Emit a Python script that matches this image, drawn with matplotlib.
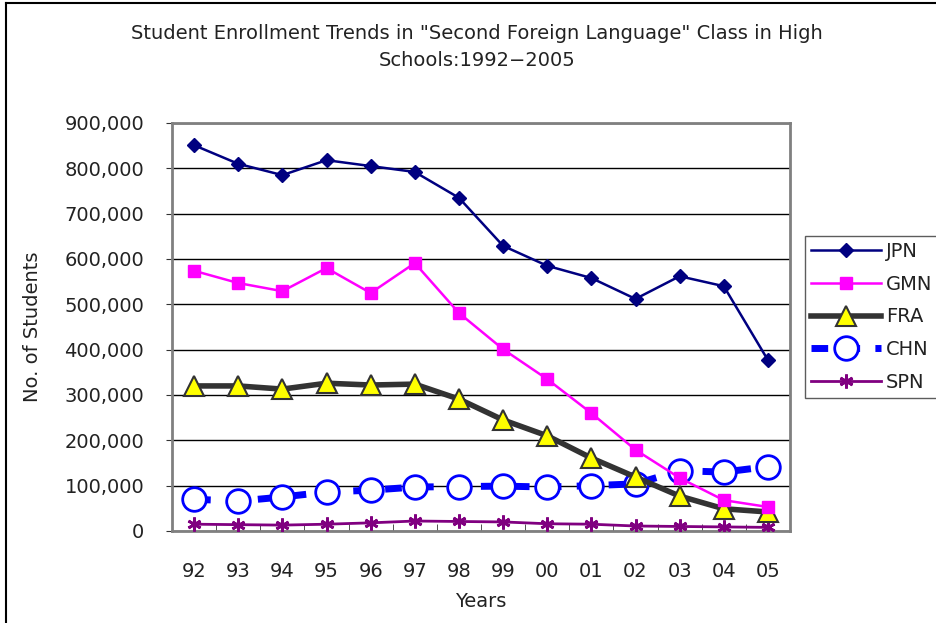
import matplotlib
matplotlib.use("Agg")
import matplotlib.pyplot as plt
from matplotlib.ticker import FuncFormatter, FixedLocator
from matplotlib.lines import Line2D

years = ["92", "93", "94", "95", "96", "97", "98", "99", "00", "01", "02", "03", "04", "05"]
jpn = [851000, 810000, 785000, 818000, 805000, 792000, 735000, 629000, 585000, 558000, 512000, 562000, 540000, 377000]
gmn = [574000, 547000, 529000, 580000, 525000, 591000, 481000, 401000, 335000, 260000, 179000, 117000, 68000, 53000]
fra = [320000, 320000, 313000, 326000, 322000, 324000, 291000, 245000, 210000, 161000, 119000, 77000, 49000, 42000]
chn = [70000, 66000, 75000, 86000, 90000, 97000, 98000, 99000, 97000, 100000, 104000, 133000, 130000, 142000]
spn = [15000, 14000, 13000, 15000, 18000, 22000, 21000, 20000, 16000, 15000, 11000, 10000, 9000, 8000]

plt.rcParams['font.family'] = ['DejaVu Sans']
fig = plt.figure(figsize=(9.36, 6.23), dpi=100)
ax = fig.add_axes([172/936, 1-531/623, (790-172)/936, (531-123)/623])

x = list(range(len(years)))

ax.plot(x, spn, color="#800080", lw=2, marker=(6, 2, 0), ms=10, mew=2, label="SPN", zorder=3)
ax.plot(x, chn, color="#0000FF", lw=5, linestyle=(0, (2.4, 2.2)), marker="o", ms=17,
        mfc="white", mec="#0000FF", mew=2, label="CHN", zorder=4)
ax.plot(x, fra, color="#333333", lw=4, marker="^", ms=14, mfc="#FFFF00", mec="#333333", mew=1.5,
        label="FRA", zorder=5)
ax.plot(x, gmn, color="#FF00FF", lw=1.8, marker="s", ms=8, mfc="#FF00FF", mec="#FF00FF", label="GMN", zorder=6)
ax.plot(x, jpn, color="#000080", lw=1.8, marker="D", ms=7, mfc="#000080", mec="#000080", label="JPN", zorder=7)

ax.set_xlim(-0.5, len(years) - 0.5)
ax.set_ylim(0, 900000)
ax.set_yticks(range(0, 900001, 100000))
ax.yaxis.set_major_formatter(FuncFormatter(lambda v, p: f"{int(v):,}"))
ax.set_xticks(x)
ax.set_xticklabels(years)
ax.xaxis.set_minor_locator(FixedLocator([i + 0.5 for i in range(-1, len(years))]))
ax.tick_params(axis="x", which="major", length=0, pad=22, labelsize=14, colors="#222222")
ax.tick_params(axis="x", which="minor", direction="in", length=5, color="#333333")
ax.tick_params(axis="y", which="major", direction="out", length=4, pad=16, labelsize=14, colors="#222222")
ax.tick_params(axis="y", colors="#333333", labelcolor="#222222")

ax.grid(axis="y", color="black", lw=1)
ax.set_axisbelow(True)
for s in ax.spines.values():
    s.set_color("#808080")
    s.set_linewidth(2)

ax.set_ylabel("No. of Students", fontsize=14, color="#222222", labelpad=16)
ax.set_xlabel("Years", fontsize=14, color="#222222", labelpad=8)

fig.text(0.51, 1 - 47/623, 'Student Enrollment Trends in "Second Foreign Language" Class in High\nSchools:1992\u22122005',
         ha="center", va="center", fontsize=14, color="#222222", linespacing=1.5)

handles, labels = ax.get_legend_handles_labels()
order = ["JPN", "GMN", "FRA", "CHN", "SPN"]
hmap = dict(zip(labels, handles))
leg = fig.legend([hmap[k] for k in order], order, loc="upper left",
                 bbox_to_anchor=(805/936, 1 - 236/623), fontsize=14, frameon=True,
                 fancybox=False, edgecolor="#333333", handlelength=3.6, handletextpad=0.25,
                 labelspacing=0.71, borderpad=0.3, borderaxespad=0)
leg.get_frame().set_linewidth(1)
for t in leg.get_texts():
    t.set_color("#222222")

# outer chart border (extends past the right and bottom edges)
fig.add_artist(Line2D([6/936, 6/936], [0, 1 - 3/623], transform=fig.transFigure, color="black", lw=1.5))
fig.add_artist(Line2D([6/936, 1], [1 - 3/623, 1 - 3/623], transform=fig.transFigure, color="black", lw=1.5))

fig.savefig("out.png", dpi=100)
